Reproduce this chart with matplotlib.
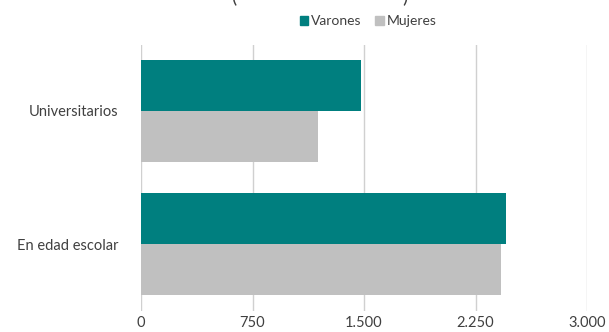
import matplotlib
matplotlib.use("Agg")
import matplotlib.pyplot as plt
import numpy as np
from matplotlib.patches import Patch

categories = ["Universitarios", "En edad escolar"]
varones = [1482, 2452]
mujeres = [1192, 2423]
xticks = [0, 750, 1500, 2250, 3000]
xtick_labels = ["0", "750", "1.500", "2.250", "3.000"]
series_names = ["Varones", "Mujeres"]

teal = "#007f7f"
grey = "#c0c0c0"
text_color = "#404040"

plt.rcParams["font.family"] = ["Lato", "DejaVu Sans"]

fig = plt.figure(figsize=(6.09, 3.32), dpi=100)
ax = fig.add_axes([141 / 609, 1 - 310.5 / 332, 446 / 609, (310.5 - 44.5) / 332])

y = np.arange(len(categories))
h = 0.383
ax.barh(y - h / 2, varones, height=h, color=teal, zorder=3)
ax.barh(y + h / 2, mujeres, height=h, color=grey, zorder=3)

ax.set_ylim(len(categories) - 0.5, -0.5)
ax.set_xlim(0, 3000)
ax.set_yticks(y)
ax.set_yticklabels(categories, fontsize=10.5, color=text_color)
ax.set_xticks(xticks)
ax.set_xticklabels(xtick_labels, fontsize=10.5, color=text_color)
ax.tick_params(axis="x", length=0, pad=4)
ax.tick_params(axis="y", length=0, pad=16)
ax.grid(axis="x", color="#d0d0d0", linewidth=1, zorder=0)
for s in ax.spines.values():
    s.set_visible(False)

handles = [Patch(color=teal), Patch(color=grey)]
fig.legend(handles, series_names, loc="center", bbox_to_anchor=(368 / 609, 1 - 21 / 332),
           ncol=2, frameon=False, fontsize=10, handlelength=0.6, handleheight=0.6,
           handletextpad=0.2, columnspacing=1.0, labelcolor=text_color)

# Chart title line sits above the top edge; only the bracket tails show
fig.text(234 / 609, 1 + 4 / 332, "(", fontsize=14, color=text_color, ha="center", va="center")
fig.text(405 / 609, 1 + 4 / 332, ")", fontsize=14, color=text_color, ha="center", va="center")

fig.savefig("out.png", dpi=100)
